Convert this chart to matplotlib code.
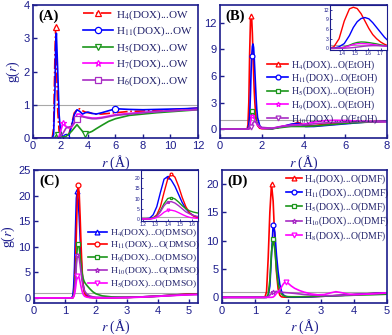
import matplotlib
matplotlib.use("Agg")
import matplotlib.pyplot as plt

plt.rcParams["font.family"] = ["Liberation Serif", "DejaVu Serif"]
plt.rcParams["mathtext.fontset"] = "stix"

NAVY = "#1c1c8c"
TEXT = "#20206a"
RED = "#ff0000"
BLUE = "#0000ff"
GREEN = "#1b961b"
MAGENTA = "#ff00ff"
PURPLE = "#a82cc4"
GRAY = "#a8a8a8"

# ---- panel A: H...OW ----
rA = [0, 1.4, 1.5, 1.6, 1.65, 1.7, 1.8, 1.9, 2.0, 2.2, 2.4, 2.6, 2.8, 3.0, 3.2, 3.4,
      3.6, 3.8, 4.0, 4.3, 4.6, 5.0, 5.5, 6.0, 6.5, 7.0, 8.0, 9.0, 10.0, 11.0, 12.0]
gA_H4 = [0, 0, 0.3, 2.6, 3.35, 2.4, 0.8, 0.2, 0.05, 0.02, 0.03, 0.1, 0.4, 0.75, 0.85, 0.88,
         0.82, 0.78, 0.76, 0.74, 0.72, 0.72, 0.74, 0.76, 0.78, 0.80, 0.81, 0.83, 0.85, 0.87, 0.90]
gA_H11 = [0, 0, 0.1, 1.5, 2.8, 3.15, 2.0, 0.7, 0.2, 0.03, 0.02, 0.05, 0.35, 0.7, 0.85, 0.80,
          0.72, 0.76, 0.78, 0.74, 0.72, 0.76, 0.82, 0.88, 0.87, 0.86, 0.85, 0.86, 0.87, 0.88, 0.90]
gA_H5 = [0, 0, 0, 0.02, 0.05, 0.08, 0.1, 0.08, 0.05, 0.03, 0.05, 0.12, 0.2, 0.3, 0.4, 0.3,
         0.2, 0.12, 0.15, 0.2, 0.28, 0.38, 0.5, 0.58, 0.63, 0.68, 0.72, 0.76, 0.79, 0.82, 0.85]
gA_H7 = [0, 0, 0, 0, 0, 0, 0, 0.05, 0.2, 0.45, 0.35, 0.3, 0.32, 0.45, 0.72, 0.72,
         0.66, 0.63, 0.62, 0.6, 0.6, 0.62, 0.66, 0.7, 0.72, 0.74, 0.77, 0.8, 0.82, 0.84, 0.86]
gA_H6 = [0, 0, 0, 0, 0, 0, 0, 0, 0.05, 0.15, 0.3, 0.33, 0.35, 0.45, 0.57, 0.64,
         0.64, 0.62, 0.6, 0.58, 0.58, 0.6, 0.64, 0.68, 0.7, 0.72, 0.76, 0.79, 0.82, 0.84, 0.86]
labelsA = ["H$_4$(DOX)...OW", "H$_{11}$(DOX)...OW", "H$_5$(DOX)...OW",
           "H$_7$(DOX)...OW", "H$_6$(DOX)...OW"]

# ---- panel B: H...O(EtOH) ----
rB = [0, 1.30, 1.34, 1.38, 1.42, 1.46, 1.49, 1.52, 1.55, 1.58, 1.61, 1.64, 1.67, 1.70,
      1.73, 1.76, 1.80, 1.90, 2.0, 2.5, 3.0, 3.4, 3.75, 4.1, 4.5, 5.0, 5.5, 6.0, 6.5,
      7.0, 7.5, 8.0]
gB_H4 = [0, 0, 0.5, 3.0, 8.5, 12.3, 12.8, 12.4, 10.8, 8.5, 6.2, 4.3, 3.0, 2.0,
         1.3, 0.8, 0.4, 0.1, 0.05, 0.05, 0.3, 0.5, 0.75, 0.4, 0.4, 0.55, 0.62, 0.7, 0.78,
         0.82, 0.86, 0.9]
gB_H11 = [0, 0, 0.1, 0.5, 1.5, 4.0, 6.5, 8.3, 9.3, 9.6, 9.2, 8.0, 6.5, 5.0,
          3.5, 2.3, 1.3, 0.4, 0.1, 0.05, 0.3, 0.55, 0.65, 0.3, 0.3, 0.4, 0.5, 0.6, 0.7,
          0.8, 0.85, 0.9]
gB_H5 = [0, 0, 0, 0.1, 0.4, 1.0, 1.5, 1.85, 2.0, 1.95, 1.8, 1.6, 1.4, 1.1,
         0.9, 0.7, 0.5, 0.2, 0.1, 0.05, 0.2, 0.3, 0.3, 0.3, 0.35, 0.45, 0.55, 0.65, 0.72,
         0.78, 0.82, 0.85]
gB_H9 = [0, 0, 0, 0.05, 0.3, 0.8, 1.2, 1.45, 1.5, 1.45, 1.35, 1.2, 1.05, 0.9,
         0.75, 0.6, 0.45, 0.2, 0.1, 0.1, 0.35, 0.45, 0.5, 0.6, 0.8, 0.95, 1.0, 0.98, 0.92,
         0.88, 0.85, 0.83]
gB_H10 = [0, 0, 0, 0, 0.05, 0.15, 0.25, 0.4, 0.55, 0.7, 0.8, 0.85, 0.85, 0.8,
          0.75, 0.7, 0.6, 0.35, 0.2, 0.1, 0.3, 0.4, 0.45, 0.5, 0.6, 0.7, 0.75, 0.8, 0.85,
          0.85, 0.85, 0.85]
labelsB = ["H$_4$(DOX)...O(EtOH)", "H$_{11}$(DOX)...O(EtOH)", "H$_5$(DOX)...O(EtOH)",
           "H$_9$(DOX)...O(EtOH)", "H$_{10}$(DOX)...O(EtOH)"]

# ---- panel C: H...O(DMSO) ----
rC = [0, 1.20, 1.25, 1.28, 1.31, 1.34, 1.37, 1.40, 1.43, 1.46, 1.49, 1.52, 1.55, 1.58,
      1.61, 1.64, 1.70, 1.80, 1.90, 2.0, 2.2, 2.5, 3.0, 3.5, 4.0, 4.5, 5.0, 5.3]
gC_H4 = [0, 0, 0.3, 2.0, 6.0, 13.0, 19.5, 20.8, 19.0, 16.0, 12.0, 8.0, 5.0, 3.0,
         1.8, 1.0, 0.5, 0.2, 0.1, 0.05, 0.05, 0.05, 0.1, 0.2, 0.35, 0.55, 0.7, 0.75]
gC_H11 = [0, 0, 0, 0.5, 2.0, 6.0, 13.0, 19.5, 22.0, 20.5, 16.0, 10.5, 6.0, 3.0,
          1.5, 0.8, 0.3, 0.1, 0.05, 0.03, 0.03, 0.03, 0.08, 0.2, 0.35, 0.55, 0.75, 0.8]
gC_H9 = [0, 0, 0, 0.5, 1.5, 4.0, 7.5, 10.0, 10.5, 9.8, 8.3, 6.5, 5.0, 4.0,
         3.4, 3.0, 2.5, 1.8, 1.2, 0.8, 0.4, 0.2, 0.1, 0.15, 0.3, 0.5, 0.65, 0.7]
gC_H10 = [0, 0, 0, 0.3, 1.2, 3.5, 6.5, 8.3, 8.5, 7.8, 6.5, 5.0, 3.5, 2.5,
          1.8, 1.3, 0.8, 0.4, 0.2, 0.1, 0.05, 0.05, 0.1, 0.2, 0.35, 0.5, 0.65, 0.7]
gC_H5 = [0, 0, 0, 0.2, 0.7, 1.8, 3.3, 4.2, 4.3, 3.9, 3.1, 2.2, 1.4, 0.8,
         0.5, 0.3, 0.15, 0.05, 0.02, 0.02, 0.02, 0.02, 0.05, 0.15, 0.3, 0.45, 0.6, 0.65]
labelsC = ["H$_4$(DOX)...O(DMSO)", "H$_{11}$(DOX)...O(DMSO)", "H$_9$(DOX)...O(DMSO)",
           "H$_{10}$(DOX)...O(DMSO)", "H$_5$(DOX)...O(DMSO)"]

# ---- panel D: H...O(DMF) ----
rD = [0, 1.30, 1.35, 1.40, 1.45, 1.50, 1.55, 1.60, 1.65, 1.70, 1.75, 1.80, 1.85, 1.90,
      1.95, 2.0, 2.1, 2.2, 2.35, 2.5, 2.7, 2.9, 3.1, 3.3, 3.45, 3.6, 3.8, 4.0, 4.5, 5.0]
gD_H4 = [0, 0, 1.0, 7.0, 15.0, 20.0, 17.0, 10.0, 4.5, 1.5, 0.4, 0.1, 0.05, 0.03,
         0.02, 0.02, 0.02, 0.02, 0.03, 0.05, 0.1, 0.15, 0.2, 0.25, 0.3, 0.35, 0.4, 0.5, 0.65, 0.8]
gD_H11 = [0, 0, 0, 0.3, 2.0, 7.5, 12.8, 11.5, 7.5, 4.5, 2.3, 1.1, 0.5, 0.25,
          0.12, 0.08, 0.05, 0.05, 0.05, 0.08, 0.1, 0.15, 0.2, 0.25, 0.3, 0.35, 0.4, 0.5, 0.65, 0.8]
gD_H5 = [0, 0, 0, 0.5, 3.0, 8.0, 10.3, 8.5, 5.0, 2.5, 1.2, 0.6, 0.35, 0.2,
         0.15, 0.12, 0.1, 0.1, 0.1, 0.12, 0.15, 0.2, 0.22, 0.25, 0.28, 0.3, 0.33, 0.38, 0.45, 0.55]
gD_H10 = [0, 0, 0, 0.1, 0.4, 0.7, 0.9, 1.0, 1.05, 1.0, 0.95, 0.9, 0.88, 0.85,
          0.82, 0.8, 0.75, 0.7, 0.6, 0.5, 0.4, 0.35, 0.3, 0.3, 0.32, 0.35, 0.4, 0.45, 0.6, 0.75]
gD_H8 = [0, 0, 0, 0, 0, 0, 0.05, 0.3, 0.7, 1.0, 1.3, 1.8, 2.3, 2.65,
         2.7, 2.5, 2.0, 1.6, 1.2, 0.9, 0.6, 0.45, 0.5, 0.8, 1.0, 0.85, 0.6, 0.5, 0.6, 0.8]
labelsD = ["H$_4$(DOX)...O(DMF)", "H$_{11}$(DOX)...O(DMF)", "H$_5$(DOX)...O(DMF)",
           "H$_{10}$(DOX)...O(DMF)", "H$_8$(DOX)...O(DMF)"]

W, H = 392, 335
fig = plt.figure(figsize=(W / 100, H / 100), dpi=100)


def box(x0, y0, x1, y1):
    # pixel box (top-left origin) -> figure fraction rect
    return [x0 / W, 1 - y1 / H, (x1 - x0) / W, (y1 - y0) / H]


def style(ax, xlim, ylim, xticks, yticks, fs=8, inset=False):
    ax.set_xlim(*xlim)
    ax.set_ylim(*ylim)
    ax.set_xticks(xticks)
    ax.set_yticks(yticks)
    for s in ax.spines.values():
        s.set_color(NAVY)
        s.set_linewidth(0.8 if inset else 1.2)
    ax.tick_params(direction="in", colors=NAVY, labelsize=fs,
                   length=1.5 if inset else 3, width=0.6 if inset else 1,
                   pad=0.8 if inset else 2.5)
    for lab in ax.get_xticklabels() + ax.get_yticklabels():
        lab.set_fontfamily("Liberation Sans")


def draw(ax, r, series, ms, lw=1.2, labels=None):
    ax.axhline(1, color=GRAY, lw=0.8, zorder=0)
    for i, (g, color, marker, ls, mk) in enumerate(series):
        ax.plot(r, g, color=color, ls=ls, lw=lw, marker=marker, markevery=mk,
                ms=ms, mfc="white", mec=color, mew=0.9,
                label=labels[i] if labels else None)


def legend(ax, x0, y0, fs, spacing, hlen):
    ax.legend(loc="upper left", bbox_to_anchor=(x0 / W, 1 - y0 / H),
              bbox_transform=fig.transFigure, frameon=False, fontsize=fs,
              borderpad=0, borderaxespad=0, labelspacing=spacing,
              handlelength=hlen, handletextpad=0.3, numpoints=1,
              labelcolor=TEXT)


def deco(ax, tag, xlabel_y, ylabel=False):
    ax.text(0.03, 0.965, tag, transform=ax.transAxes, fontsize=10.5,
            fontweight="bold", va="top", ha="left")
    ax.set_xlabel("$r$ (Å)", fontsize=10, color=NAVY, labelpad=xlabel_y)
    if ylabel:
        ax.set_ylabel("g($r$)", fontsize=10, color=NAVY, labelpad=1)


# A
axA = fig.add_axes(box(33, 5, 198, 138))
seriesA = [(gA_H4, RED, "^", "-.", [4]),
           (gA_H11, BLUE, "o", "-", [10, 23]),
           (gA_H5, GREEN, "v", "-", [6, 17]),
           (gA_H7, MAGENTA, "*", "-", [9]),
           (gA_H6, PURPLE, "s", "-", [14])]
draw(axA, rA, seriesA, ms=4.5, labels=labelsA)
style(axA, (0, 12), (0, 4), range(0, 13, 2), range(0, 5))
legend(axA, 83, 8, 8, 0.28, 2.7)
deco(axA, "(A)", 1.5, ylabel=True)

# B
axB = fig.add_axes(box(220, 5, 387, 138))
seriesB = [(gB_H4, RED, "^", "-", [6]),
           (gB_H11, BLUE, "o", "-", [7]),
           (gB_H5, GREEN, "s", "-", [8]),
           (gB_H9, MAGENTA, "*", "-", [8]),
           (gB_H10, PURPLE, "v", "-", [6])]
draw(axB, rB, seriesB, ms=3.5, labels=labelsB)
style(axB, (0, 8), (-1, 14), range(0, 9, 2), range(0, 13, 3))
legend(axB, 267, 58, 7, 0.0, 2.2)
deco(axB, "(B)", 1.5)

insB = fig.add_axes(box(330, 5, 387, 50))
draw(insB, rB, [(g, c, None, "-", None) for g, c, *_ in seriesB], ms=2, lw=1)
style(insB, (1.31, 1.75), (-0.5, 13.5), [1.4, 1.5, 1.6, 1.7], range(0, 13, 3),
      fs=3.6, inset=True)

# C
axC = fig.add_axes(box(34, 170, 198, 303))
seriesC = [(gC_H4, BLUE, "^", "-", [7]),
           (gC_H11, RED, "o", "-", [8]),
           (gC_H9, GREEN, "s", "-", [8]),
           (gC_H10, PURPLE, "*", "-", [7]),
           (gC_H5, MAGENTA, "v", "-", [7])]
draw(axC, rC, seriesC, ms=3.5, labels=labelsC)
style(axC, (0, 5.3), (-1, 25), range(0, 6), range(0, 26, 5))
legend(axC, 88, 227, 6.8, 0.12, 2.0)
deco(axC, "(C)", 1, ylabel=True)

insC = fig.add_axes(box(141, 170, 198, 221))
draw(insC, rC, [(g, c, m, "-", mk) for g, c, m, _, mk in seriesC], ms=2, lw=1)
style(insC, (1.18, 1.65), (-1, 24), [1.2, 1.3, 1.4, 1.5, 1.6], range(0, 21, 5),
      fs=3.6, inset=True)

# D
axD = fig.add_axes(box(222, 170, 387, 303))
seriesD = [(gD_H4, RED, "^", "-", [5]),
           (gD_H11, BLUE, "o", "-", [6]),
           (gD_H5, GREEN, "s", "-", [6]),
           (gD_H10, PURPLE, "*", "-", [6]),
           (gD_H8, MAGENTA, "v", "-", [14])]
draw(axD, rD, seriesD, ms=3.5, labels=labelsD)
style(axD, (0, 5), (-1, 22.5), range(0, 6), range(0, 21, 5))
legend(axD, 286, 172, 7, 0.08, 1.6)
deco(axD, "(D)", 1)

fig.savefig("out.png", dpi=100)
